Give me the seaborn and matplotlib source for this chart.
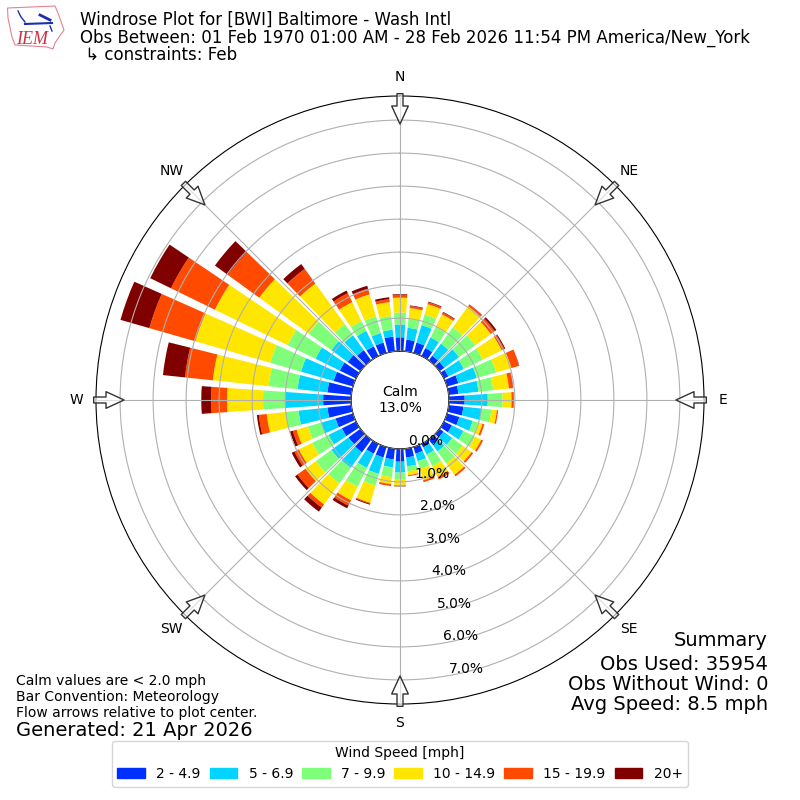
import numpy as np
import pandas as pd
import seaborn as sns
import matplotlib
matplotlib.use('Agg')
import matplotlib.pyplot as plt
from matplotlib.patches import Patch, Polygon

# percent of obs per 10 degree direction bin (10, 20, ... 360 -> here 0 to 350)
directions = list(range(0, 360, 10))
s2_5 = [.42,.36,.33,.27,.18,.18,.15,.36,.30,.48,.45,.39,.27,.15,.18,.12,.21,.27,
        .39,.33,.33,.33,.48,.45,.48,.55,.73,.85,.73,.61,.55,.48,.39,.33,.33,.45]
s5_7 = [.39,.36,.55,.36,.45,.55,.52,.58,.61,.70,.55,.42,.39,.33,.27,.24,.24,.27,
        .33,.24,.52,.48,.58,.64,.45,.45,.88,1.15,.91,1.03,.82,.61,.55,.52,.30,.21]
s7_10 = [.36,.27,.33,.36,.61,.61,.64,.61,.45,.45,.30,.17,.39,.39,.45,.39,.24,.15,
         .21,.30,.36,.64,.58,.58,.55,.42,.39,.67,.88,.97,.94,.85,.42,.33,.52,.42]
s10_15 = [.45,.33,.33,.42,.79,.58,.64,.48,.48,.27,.17,.14,.21,.33,.42,.36,.36,.12,
          .18,.21,.55,.45,.79,.39,.45,.36,.58,1.09,1.70,2.36,2.45,1.85,1.52,.64,.70,.42]
s15_20 = [.09,.06,.06,.06,.06,.15,.09,.24,.12,.06,.04,.06,.06,.06,.06,.09,.06,.03,
          .02,.06,.03,.18,.12,.30,.15,.12,.24,.48,.85,1.45,1.48,1.18,.55,.30,.18,.09]
s20 = [.02,.02,.02,.02,.01,.06,.03,.01,.01,.01,0,0,0,0,0,0,0,0,
       .01,0,.03,.09,.15,.09,.09,.09,.06,.30,.67,.91,.70,.48,.18,.09,.09,.06]
bands = [s2_5, s5_7, s7_10, s10_15, s15_20, s20]
band_labels = ['2 - 4.9', '5 - 6.9', '7 - 9.9', '10 - 14.9', '15 - 19.9', '20+']
band_colors = ['#0030ff', '#00d4ff', '#7dff7a', '#ffe600', '#ff4a00', '#800000']

ring_values = list(range(8))
compass_deg = [0, 45, 90, 135, 180, 225, 270, 315]
compass_names = ['N', 'NE', 'E', 'SE', 'S', 'SW', 'W', 'NW']

title_lines = ['Windrose Plot for [BWI] Baltimore - Wash Intl',
               'Obs Between: 01 Feb 1970 01:00 AM - 28 Feb 2026 11:54 PM America/New_York',
               ' ↳ constraints: Feb']
notes = 'Calm values are < 2.0 mph\nBar Convention: Meteorology\nFlow arrows relative to plot center.'
summary = ['Summary', 'Obs Used: 35954', 'Obs Without Wind: 0', 'Avg Speed: 8.5 mph']

palette = sns.color_palette(band_colors)
df = pd.DataFrame(dict(zip(band_labels, bands)))
df['theta'] = np.deg2rad(directions)

fig = plt.figure(figsize=(8, 8), dpi=100)
ax = fig.add_axes([96/800, 96/800, 608/800, 608/800], projection='polar')
ax.set_theta_zero_location('N')
ax.set_theta_direction(-1)

# stack the speed classes
base = np.zeros(len(directions))
for label, color in zip(band_labels, palette):
    sns.barplot(data=df, x='theta', y=label, native_scale=True, color=color, bottom=base,
                saturation=1, width=0.8, linewidth=0, errorbar=None, ax=ax)
    base = base + df[label].values

ax.set_xlabel('')
ax.set_ylabel('')
ax.set_rlim(0, 7.73)
ax.set_rorigin(-1.48)
ax.set_axisbelow(False)
ax.set_xticks(np.deg2rad(compass_deg))
ax.set_xticklabels(compass_names, fontsize=10)
ax.set_yticks(ring_values)
ax.set_yticklabels(['%.1f%%' % v for v in ring_values], fontsize=10)
ax.set_rlabel_position(170)
ax.grid(True, color='#b0b0b0', lw=0.8)
ax.plot(np.linspace(0, 2*np.pi, 200), np.zeros(200), color='k', lw=1)

for deg in compass_deg:
    t = np.deg2rad(deg)
    ax.annotate('', xy=(t, 6.88), xytext=(t, 7.8), annotation_clip=False,
                arrowprops=dict(width=4.3, headwidth=12, headlength=13,
                                fc=(1, 1, 1, 0.6), ec='#333333', lw=1))

ax.text(0, -1.48, 'Calm\n13.0%', ha='center', va='center', fontsize=10)

for i, line in enumerate(title_lines):
    fig.text(80/800, 1 - (20 + i*17.6)/800, line, fontsize=12, va='center')
fig.text(16/800, 1 - 697/800, notes, fontsize=10, va='center', linespacing=1.15)
fig.text(16/800, 1 - 730/800, 'Generated: 21 Apr 2026', fontsize=14, va='center')
for line, y in zip(summary, [640, 664, 685, 705]):
    fig.text(768/800, 1 - y/800, line, fontsize=14, ha='right', va='center')

handles = [Patch(color=c, label=l) for c, l in zip(palette, band_labels)]
fig.legend(handles=handles, ncol=6, title='Wind Speed [mph]', loc='lower center',
           bbox_to_anchor=(0.5, 0.008), columnspacing=0.65)

# IEM logo
logo = fig.add_axes([7/800, 1 - 50/800, 58/800, 45/800])
logo.set_xlim(7, 65)
logo.set_ylim(50, 5)
logo.axis('off')
logo.add_patch(Polygon([(7.5, 8), (55, 6), (58, 13), (64, 30), (59, 37), (55, 43), (53, 49),
                        (47, 47), (15, 45), (12, 37), (8, 18)], fc='white', ec='#e88090', lw=0.8))
logo.plot([25, 52], [24, 23], color='#1a2fb0', lw=1.5)
logo.plot([18, 21, 25], [11, 17, 22], color='#1a2fb0', lw=1)
logo.plot([40, 50], [15, 20], color='#1a2fb0', lw=2)
logo.plot([50, 52], [26, 31], color='#1a2fb0', lw=1)
logo.text(16, 44, 'IEM', color='#d03040', fontsize=13, style='italic', family='Liberation Serif')

fig.savefig('out.png', dpi=100)
